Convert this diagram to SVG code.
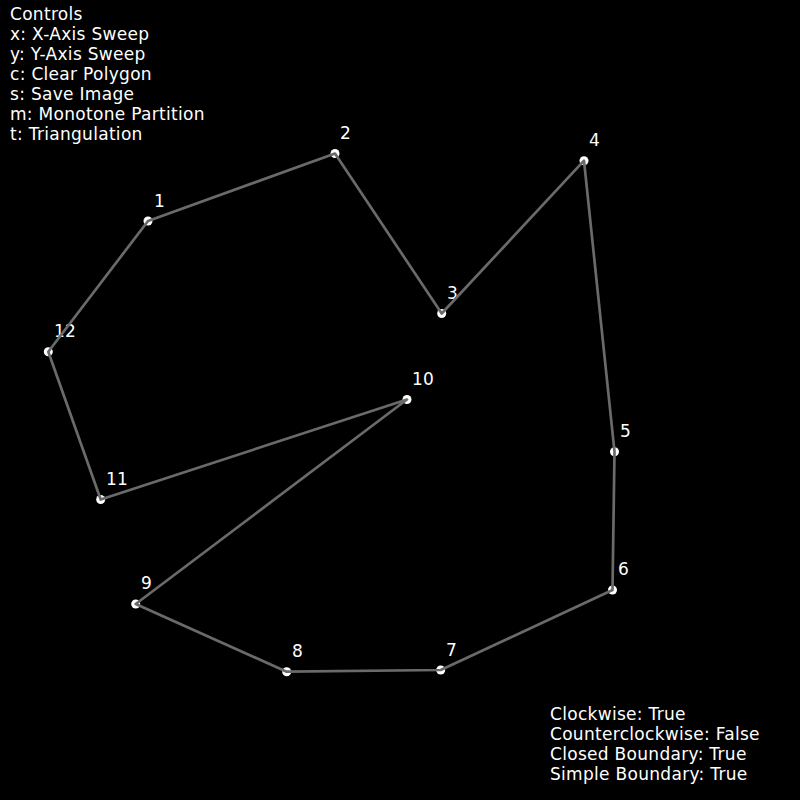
<svg xmlns="http://www.w3.org/2000/svg" width="800" height="800" viewBox="0 0 800 800">
<style>
text{font-family:"DejaVu Sans","Liberation Sans",sans-serif;font-size:17px;fill:#fff;letter-spacing:0.3px}
.v{fill:#fff}
.e{stroke:#6a6a6a;stroke-width:2.7;fill:none;stroke-linejoin:round}
</style>
<rect width="800" height="800" fill="#000"/>
<g id="controls">
<text x="10" y="20">Controls</text>
<text x="10" y="40">x: X-Axis Sweep</text>
<text x="10" y="60">y: Y-Axis Sweep</text>
<text x="10" y="80">c: Clear Polygon</text>
<text x="10" y="100">s: Save Image</text>
<text x="10" y="120">m: Monotone Partition</text>
<text x="10" y="140">t: Triangulation</text>
</g>
<g id="v1"><circle class="v" cx="148" cy="221" r="4.5"/><text x="154" y="207">1</text></g>
<g id="v2"><circle class="v" cx="335" cy="153.5" r="4.5"/><text x="340" y="139">2</text></g>
<g id="v3"><circle class="v" cx="441.7" cy="313.5" r="4.5"/><text x="447" y="299">3</text></g>
<g id="v4"><circle class="v" cx="584" cy="160.7" r="4.5"/><text x="589" y="146">4</text></g>
<g id="v5"><circle class="v" cx="614.5" cy="451.7" r="4.5"/><text x="620" y="437">5</text></g>
<g id="v6"><circle class="v" cx="612.5" cy="590" r="4.5"/><text x="618" y="575">6</text></g>
<g id="v7"><circle class="v" cx="440.7" cy="670" r="4.5"/><text x="446" y="656">7</text></g>
<g id="v8"><circle class="v" cx="286.7" cy="671.7" r="4.5"/><text x="292" y="657">8</text></g>
<g id="v9"><circle class="v" cx="135.7" cy="604" r="4.5"/><text x="141" y="589">9</text></g>
<g id="v10"><circle class="v" cx="407" cy="399.5" r="4.5"/><text x="412" y="385">10</text></g>
<g id="v11"><circle class="v" cx="100.7" cy="499.5" r="4.5"/><text x="106" y="485">11</text></g>
<g id="v12"><circle class="v" cx="48.3" cy="351.7" r="4.5"/><text x="54" y="337">12</text></g>
<g id="connectors">
<polygon class="e" points="148,221 335,153.5 441.7,313.5 584,160.7 614.5,451.7 612.5,590 440.7,670 286.7,671.7 135.7,604 407,399.5 100.7,499.5 48.3,351.7"/>
</g>
<g id="status">
<text x="550" y="720">Clockwise: True</text>
<text x="550" y="740">Counterclockwise: False</text>
<text x="550" y="760">Closed Boundary: True</text>
<text x="550" y="780">Simple Boundary: True</text>
</g>
</svg>
